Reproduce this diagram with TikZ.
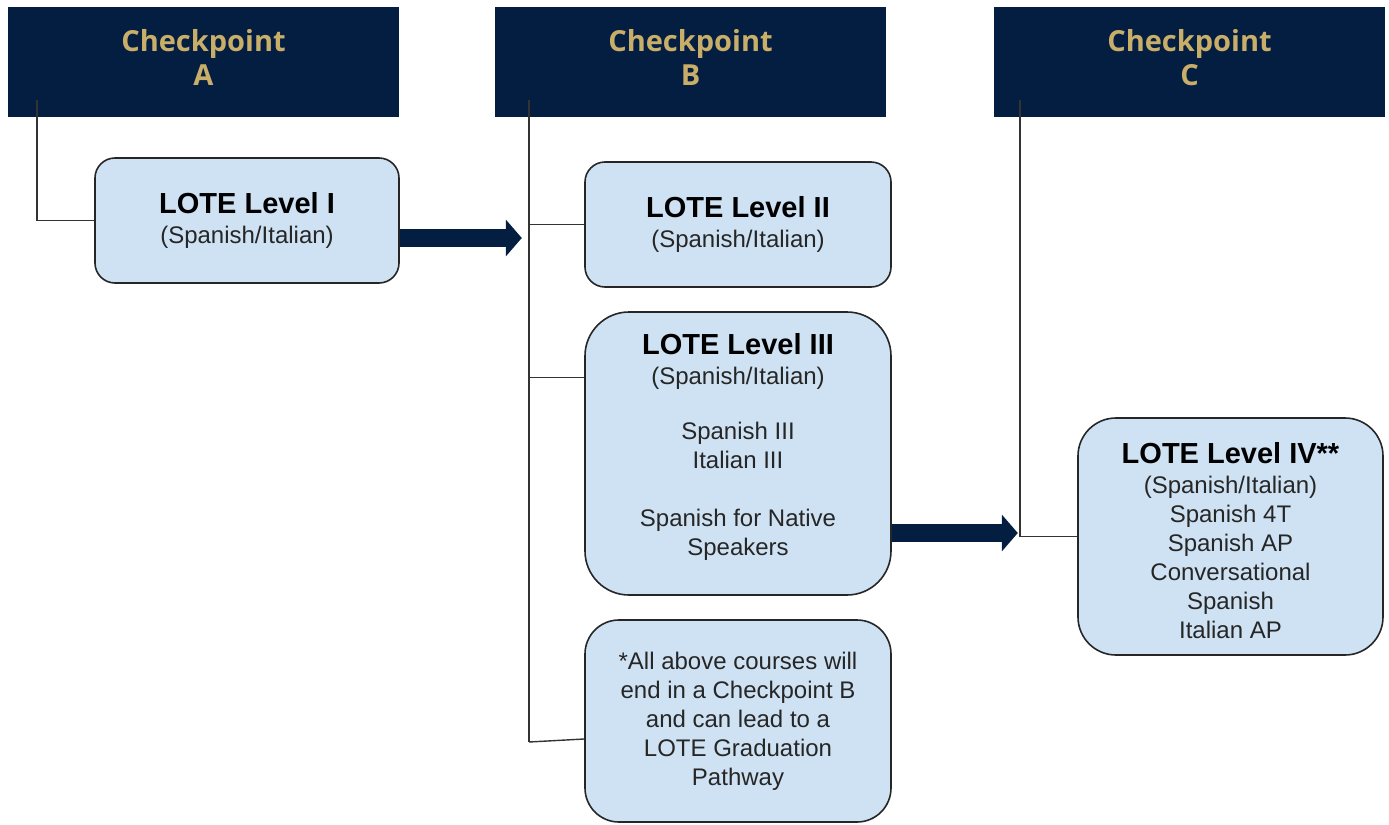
\documentclass[tikz,border=0pt]{standalone}
\usepackage{fontspec}
\setmainfont{Liberation Sans}
\newfontfamily\headfont{Open Sans}
\usetikzlibrary{arrows.meta}
\definecolor{navy}{RGB}{4,30,66}
\definecolor{gold}{RGB}{200,174,104}
\definecolor{paleblue}{RGB}{207,226,243}
\tikzset{
  header/.style={fill=navy, text=gold, font=\headfont\bfseries\fontsize{14.5}{17}\selectfont,
    align=center, minimum width=195.5pt, minimum height=55pt, inner sep=0pt},
  level/.style={draw=black!85, line width=0.8pt, fill=paleblue, align=center, inner sep=0pt,
    text=black!85, font=\fontsize{12}{14.5}\selectfont},
  link/.style={draw=black!80, line width=0.7pt},
  bigarrow/.style={navy, line width=9pt, -{Triangle[width=18pt,length=8pt]}}
}
\newcommand{\lvtitle}[1]{{\color{black}\fontsize{14.5}{16}\selectfont\bfseries #1}}
\newcommand{\cpname}[1]{Checkpoint\\#1\rule[-5pt]{0pt}{0pt}}

\begin{document}
\begin{tikzpicture}[x=0.5pt,y=-0.5pt]
  \useasboundingbox (0,0) rectangle (1389,825);
  \node[header] (cpA) at (203.5,62) {\cpname{A}};
  \node[header] (cpB) at (690.5,62) {\cpname{B}};
  \node[header] (cpC) at (1189.5,62) {\cpname{C}};

  \node[level, minimum width=152pt, minimum height=62.5pt, rounded corners=10pt] (lv1) at (247,220.5)
    {\lvtitle{LOTE Level I}\\[0.5pt](Spanish/Italian)};
  \node[level, minimum width=153pt, minimum height=62.5pt, rounded corners=10pt] (lv2) at (738,224.5)
    {\lvtitle{LOTE Level II}\\[0.5pt](Spanish/Italian)};
  \node[level, minimum width=153pt, minimum height=141.5pt, rounded corners=22pt] (lv3) at (738,453.5)
    {\lvtitle{LOTE Level III}\\[0.5pt](Spanish/Italian)\\[13pt]Spanish III\\Italian III\\[14.5pt]Spanish for Native\\Speakers\rule[-9pt]{0pt}{0pt}};
  \node[level, minimum width=153pt, minimum height=101pt, rounded corners=17pt] (note) at (738,721)
    {*All above courses will\\end in a Checkpoint B\\and can lead to a\\LOTE Graduation\\Pathway};
  \node[level, minimum width=152.5pt, minimum height=118.5pt, rounded corners=19pt] (lv4) at (1230.5,536.5)
    {\rule{0pt}{15pt}\lvtitle{LOTE Level IV**}\\[0.5pt](Spanish/Italian)\\Spanish 4T\\Spanish AP\\Conversational\\Spanish\\Italian AP};

  \coordinate (a0) at (37,100);
  \coordinate (b0) at (529,100);
  \coordinate (b9) at (529,742);
  \coordinate (c0) at (1020,100);

  \draw[link] (a0) |- (lv1.west);
  \draw[link] (b0) -- (b9);
  \draw[link] (b0) |- (lv2.west);
  \draw[link] (b0) |- ([yshift=38pt]lv3.west);
  \draw[link] (b9) -- ([yshift=-9pt]note.west);
  \draw[link] (c0) |- (lv4.west);

  \draw[bigarrow] ([yshift=-8.75pt]lv1.east) -- ++(61pt,0);
  \draw[bigarrow] ([yshift=-39.75pt]lv3.east) -- ++(63pt,0);
\end{tikzpicture}
\end{document}
